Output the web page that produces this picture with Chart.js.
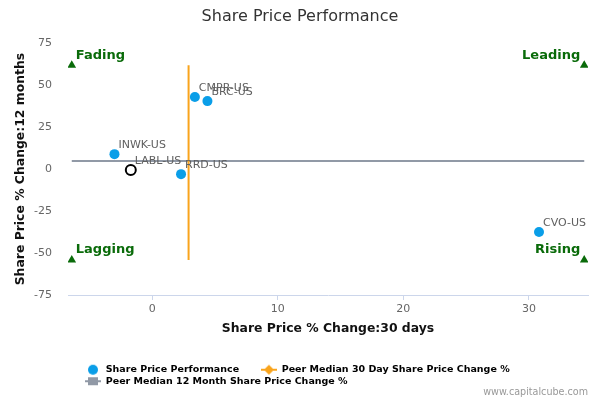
<!DOCTYPE html>
<html>
<head>
<meta charset="utf-8">
<title>Share Price Performance</title>
<script src="https://cdn.jsdelivr.net/npm/chart.js@4/dist/chart.umd.min.js"></script>
<style>
    html, body { margin: 0; padding: 0; background: #fff; }
    #wrap { width: 600px; height: 400px; position: relative; }
</style>
</head>
<body>
<div id="wrap"><canvas id="chart"></canvas></div>
<script>
// Données
const tickers = ['CMPR-US', 'BRC-US', 'INWK-US', 'LABL-US', 'RRD-US', 'CVO-US'];
const change30d = [3.4, 4.4, -3.0, -1.7, 2.3, 30.8];
const change12m = [42.9, 40.5, 8.9, -0.6, -3.0, -37.5];
const focusTicker = 'LABL-US';

// Médianes des pairs et étendue des lignes
const peerMedian30d = 2.9;
const peerMedian12m = 4.8;
const lineX = [-6.4, 34.4];
const lineY = [-54.2, 61.9];

// Quadrants
const quadrants = ['Fading', 'Leading', 'Lagging', 'Rising'];
const quadrantX = [-6.4, 34.4, -6.4, 34.4];
const quadrantY = [61.9, 61.9, -54.2, -54.2];

// Axes
const xTicks = [0, 10, 20, 30];
const yTicks = [-75, -50, -25, 0, 25, 50, 75];

const FONT = '"DejaVu Sans", Verdana, sans-serif';
const BLUE = '#0a9ee8';
const ORANGE = '#f9a41c';
const GREY = '#9199a6';
const GREEN = '#0a6b0a';

// Icônes de légende (ligne + marqueur)
function makeIcon(type, color) {
    const c = document.createElement('canvas');
    c.width = 16;
    c.height = 12;
    const g = c.getContext('2d');
    g.fillStyle = color;
    g.strokeStyle = color;
    if (type !== 'circle') {
        g.lineWidth = 2;
        g.beginPath();
        g.moveTo(0, 6);
        g.lineTo(16, 6);
        g.stroke();
    }
    g.beginPath();
    if (type === 'circle') {
        g.arc(8, 6, 5, 0, Math.PI * 2);
    } else if (type === 'diamond') {
        g.moveTo(8, 1); g.lineTo(13, 6); g.lineTo(8, 11); g.lineTo(3, 6);
        g.closePath();
    } else {
        g.rect(3, 2, 10, 8);
    }
    g.fill();
    return c;
}

const legendIcons = [makeIcon('circle', BLUE), makeIcon('diamond', ORANGE), makeIcon('square', GREY)];
const legendTexts = ['Share Price Performance      ', 'Peer Median 30 Day Share Price Change %', 'Peer Median 12 Month Share Price Change %'];

// Étiquettes des points, des quadrants et crédit
const labelsPlugin = {
    id: 'labels',
    beforeDraw(chart) {
        if (chart.legend) {
            const w = chart.legend.right - chart.legend.left;
            chart.legend.left = 83;
            chart.legend.right = 83 + w;
        }
        if (chart.titleBlock) {
            // centrer le titre sur toute la largeur
            chart.titleBlock.left = 0;
            chart.titleBlock.right = chart.width;
        }
    },
    afterDatasetsDraw(chart) {
        const ctx = chart.ctx;
        ctx.save();
        ctx.textBaseline = 'middle';

        ctx.font = '11px ' + FONT;
        ctx.fillStyle = '#606060';
        ctx.textAlign = 'left';
        chart.getDatasetMeta(0).data.forEach((pt, i) => {
            ctx.fillText(tickers[i], pt.x + 4, pt.y - 9);
        });

        ctx.font = 'bold 13px ' + FONT;
        ctx.fillStyle = GREEN;
        const midX = (chart.chartArea.left + chart.chartArea.right) / 2;
        chart.getDatasetMeta(3).data.forEach((pt, i) => {
            if (pt.x < midX) {
                ctx.textAlign = 'left';
                ctx.fillText(quadrants[i], pt.x + 4, pt.y - 10);
            } else {
                ctx.textAlign = 'right';
                ctx.fillText(quadrants[i], pt.x - 4, pt.y - 10);
            }
        });
        ctx.restore();
    },
    afterDraw(chart) {
        const ctx = chart.ctx;
        ctx.save();
        ctx.font = '9.6px ' + FONT;
        ctx.fillStyle = '#999';
        ctx.textAlign = 'right';
        ctx.textBaseline = 'middle';
        ctx.fillText('www.capitalcube.com', 588, 392);
        ctx.restore();
    }
};

const ctx = document.getElementById('chart');

new Chart(ctx, {
    type: 'scatter',
    data: {
        datasets: [
            {
                label: 'Share Price Performance',
                data: tickers.map((t, i) => ({ x: change30d[i], y: change12m[i] })),
                pointRadius: 5,
                pointHoverRadius: 5,
                backgroundColor: c => tickers[c.dataIndex] === focusTicker ? '#fff' : BLUE,
                borderColor: c => tickers[c.dataIndex] === focusTicker ? '#000' : BLUE,
                borderWidth: c => tickers[c.dataIndex] === focusTicker ? 2 : 0,
                order: 1
            },
            {
                type: 'line',
                label: 'Peer Median 30 Day Share Price Change %',
                data: lineY.map(y => ({ x: peerMedian30d, y: y })),
                borderColor: ORANGE,
                borderWidth: 2,
                pointRadius: 0,
                order: 2
            },
            {
                type: 'line',
                label: 'Peer Median 12 Month Share Price Change %',
                data: lineX.map(x => ({ x: x, y: peerMedian12m })),
                borderColor: GREY,
                borderWidth: 2,
                pointRadius: 0,
                order: 3
            },
            {
                label: 'Quadrants',
                data: quadrants.map((q, i) => ({ x: quadrantX[i], y: quadrantY[i] })),
                pointStyle: 'triangle',
                pointRadius: 5,
                backgroundColor: GREEN,
                borderColor: GREEN,
                borderWidth: 0,
                order: 0
            }
        ]
    },
    options: {
        responsive: true,
        maintainAspectRatio: false,
        animation: false,
        layout: { padding: { left: 0, right: 12, top: 0, bottom: 4 } },
        plugins: {
            title: {
                display: true,
                text: 'Share Price Performance',
                color: '#333',
                font: { family: FONT, size: 16, weight: 'normal' },
                padding: { top: 7, bottom: 17 }
            },
            legend: {
                position: 'bottom',
                align: 'start',
                labels: {
                    usePointStyle: true,
                    pointStyleWidth: 16,
                    padding: 2,
                    color: '#333',
                    font: { family: FONT, size: 9.5, weight: 'bold' },
                    generateLabels: () => legendTexts.map((t, i) => ({
                        text: t,
                        pointStyle: legendIcons[i],
                        fillStyle: 'transparent',
                        strokeStyle: 'transparent',
                        lineWidth: 0,
                        hidden: false,
                        datasetIndex: i
                    }))
                }
            },
            tooltip: { enabled: false }
        },
        scales: {
            x: {
                type: 'linear',
                min: -6.7,
                max: 34.7,
                afterBuildTicks: s => { s.ticks = xTicks.map(v => ({ value: v })); },
                afterFit: s => { s.height = 68; },
                grid: { display: true, drawOnChartArea: false, drawTicks: true, tickLength: 5, color: '#ccd6eb' },
                border: { display: true, color: '#ccd6eb' },
                ticks: { color: '#666', padding: 3, font: { family: FONT, size: 11 } },
                title: {
                    display: true,
                    text: 'Share Price % Change:30 days',
                    color: '#111',
                    font: { family: FONT, size: 12.4, weight: 'bold' },
                    padding: { top: 4, bottom: 27 }
                }
            },
            y: {
                type: 'linear',
                min: -75,
                max: 75,
                afterBuildTicks: s => { s.ticks = yTicks.map(v => ({ value: v })); },
                afterFit: s => { s.width = 68; },
                grid: { display: false, drawTicks: false },
                border: { display: false },
                ticks: { color: '#666', padding: 16, font: { family: FONT, size: 11 } },
                title: {
                    display: true,
                    text: 'Share Price % Change:12 months',
                    color: '#111',
                    font: { family: FONT, size: 12.4, weight: 'bold' },
                    padding: { top: 13, bottom: 0 }
                }
            }
        }
    },
    plugins: [labelsPlugin]
});
</script>
</body>
</html>
